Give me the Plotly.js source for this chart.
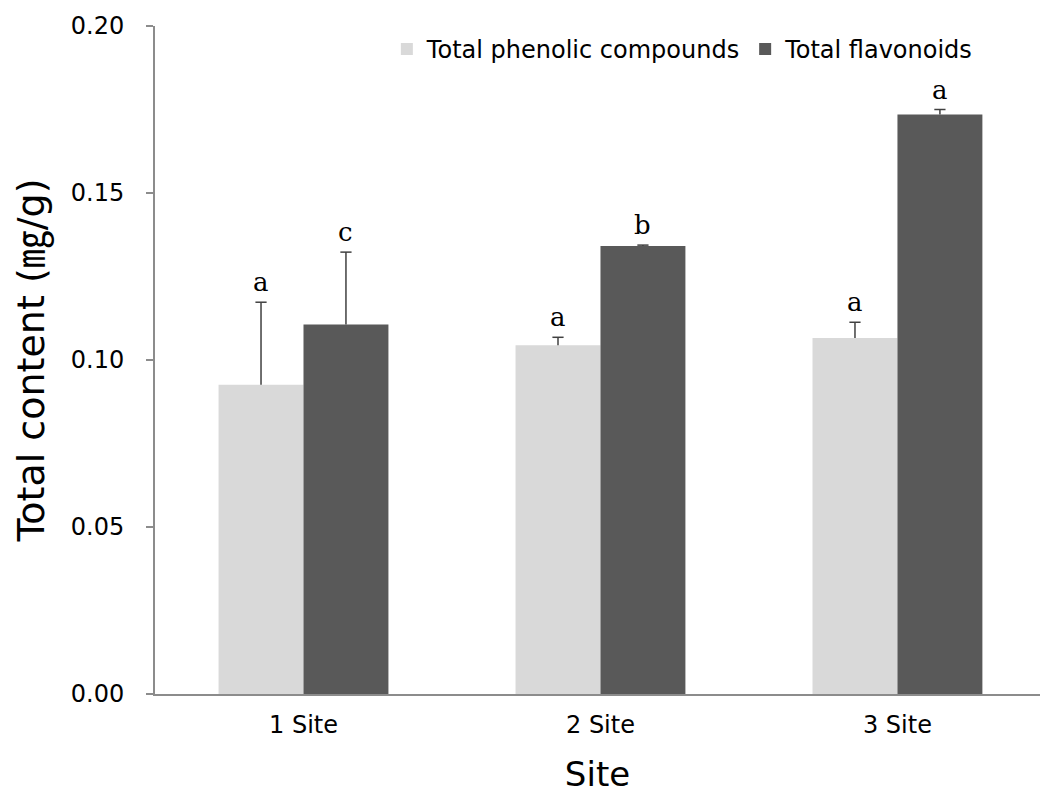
<!DOCTYPE html>
<html>
<head>
<meta charset="utf-8">
<script src="https://cdn.plot.ly/plotly-3.0.1.min.js"></script>
<style>
  html, body { margin: 0; padding: 0; background: #fff; }
  #chart { width: 1040px; height: 805px; }
</style>
</head>
<body>
<div id="chart"></div>
<script>
// Sampling sites
const sites = ['1 Site', '2 Site', '3 Site'];

// Total phenolic compounds (mg/g) with standard deviation
const phenolic = [0.0926, 0.1044, 0.1066];
const phenolicErr = [0.0247, 0.0024, 0.0047];
const phenolicLetters = ['a', 'a', 'a'];

// Total flavonoids (mg/g) with standard deviation
const flavonoids = [0.1106, 0.1341, 0.1735];
const flavonoidsErr = [0.0217, 0.0003, 0.0015];
const flavonoidsLetters = ['c', 'b', 'a'];

const yTicks = [0, 0.05, 0.10, 0.15, 0.20];

const SANS = 'DejaVu Sans, Noto Sans CJK KR, sans-serif';
const AXIS_GREY = '#8c8c8c';
const ERR_COLOR = '#404040';
const BAR_GAP = 0.428;
const halfBar = (1 - BAR_GAP) / 4;   // centre offset of each bar within its group
const pos = sites.map((s, i) => i);

// Upward-only error stems (caps are drawn separately, only at the top end)
function errorSpec(err) {
  return {
    type: 'data', symmetric: false,
    array: err, arrayminus: err.map(() => 0),
    color: ERR_COLOR, thickness: 1.5, width: 0
  };
}

function capTrace(vals, errs, side) {
  return {
    type: 'scatter', mode: 'markers', showlegend: false, hoverinfo: 'skip',
    x: pos.map(p => p + side * halfBar),
    y: vals.map((v, i) => v + errs[i]),
    marker: { symbol: 'line-ew', size: 8, line: { width: 1.5, color: ERR_COLOR } }
  };
}

const traces = [
  {
    type: 'bar', name: 'Total phenolic compounds',
    x: pos, y: phenolic,
    marker: { color: '#d9d9d9' },
    error_y: errorSpec(phenolicErr)
  },
  {
    type: 'bar', name: 'Total flavonoids',
    x: pos, y: flavonoids,
    marker: { color: '#595959' },
    error_y: errorSpec(flavonoidsErr)
  },
  capTrace(phenolic, phenolicErr, -1),
  capTrace(flavonoids, flavonoidsErr, 1)
];

// Significance letters above each error bar
const annotations = [];
function addLetters(vals, errs, letters, side) {
  vals.forEach((v, i) => {
    annotations.push({
      x: pos[i] + side * halfBar, y: v + errs[i],
      xref: 'x', yref: 'y',
      text: letters[i], showarrow: false,
      yanchor: 'bottom', yshift: 3,
      font: { family: 'DejaVu Serif, serif', size: 26, color: '#000' }
    });
  });
}
addLetters(phenolic, phenolicErr, phenolicLetters, -1);
addLetters(flavonoids, flavonoidsErr, flavonoidsLetters, 1);

const layout = {
  width: 1040, height: 805,
  margin: { l: 155, r: 0, t: 26, b: 111 },
  paper_bgcolor: '#fff', plot_bgcolor: '#fff',
  barmode: 'group', bargap: BAR_GAP, bargroupgap: 0,
  font: { family: SANS, color: '#000' },
  showlegend: true,
  legend: {
    orientation: 'h', x: 0.262, xanchor: 'left', y: 0.965, yanchor: 'middle',
    font: { family: SANS, size: 24, color: '#000' },
    bgcolor: 'rgba(0,0,0,0)', itemclick: false
  },
  xaxis: {
    range: [-0.5, 2.48],
    tickvals: pos, ticktext: sites,
    showline: true, linecolor: AXIS_GREY, linewidth: 2,
    ticks: '', showgrid: false, zeroline: false,
    tickfont: { family: SANS, size: 24 },
    ticklabelstandoff: 8,
    title: { text: 'Site', font: { family: SANS, size: 34 }, standoff: 24 }
  },
  yaxis: {
    range: [0, 0.2], tickvals: yTicks, tickformat: '.2f',
    showline: true, linecolor: AXIS_GREY, linewidth: 2,
    ticks: 'outside', ticklen: 7, tickwidth: 2, tickcolor: AXIS_GREY,
    showgrid: false, zeroline: false,
    tickfont: { family: SANS, size: 24 },
    ticklabelstandoff: 17,
    title: { text: 'Total content (㎎/g)', font: { family: SANS, size: 38 }, standoff: 14 }
  },
  annotations: annotations
};

Plotly.newPlot('chart', traces, layout, { staticPlot: true, displayModeBar: false });
</script>
</body>
</html>
